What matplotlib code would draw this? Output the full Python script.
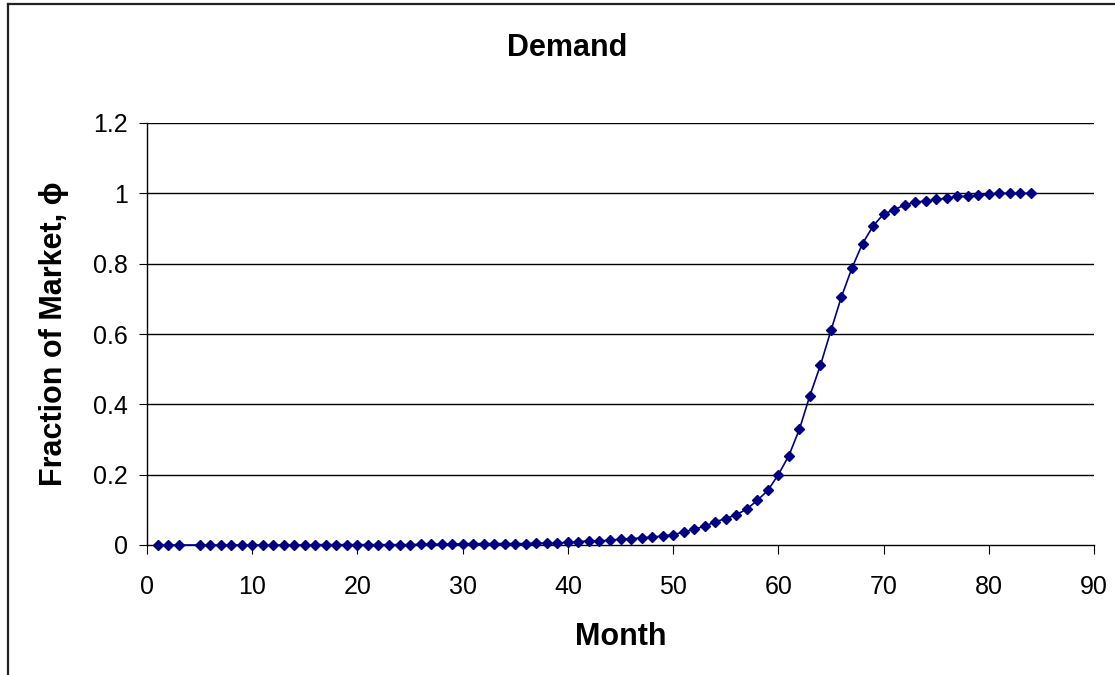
import numpy as np
import matplotlib
matplotlib.use('Agg')
import matplotlib.pyplot as plt
from matplotlib.lines import Line2D

plt.rcParams['font.family'] = ['Liberation Sans', 'DejaVu Sans']

# month index (month 4 is missing in the source)
months = [1, 2, 3] + list(range(5, 85))

# fraction of market
fraction = [
	0.000, 0.000, 0.000,                                      # 1-3
	0.000, 0.000, 0.000, 0.000, 0.000, 0.000, 0.000, 0.000,   # 5-12
	0.000, 0.000, 0.000, 0.001, 0.001, 0.001, 0.001, 0.001,   # 13-20
	0.001, 0.001, 0.001, 0.001, 0.001, 0.002, 0.002, 0.002,   # 21-28
	0.002, 0.004, 0.004, 0.004, 0.004, 0.004, 0.004, 0.004,   # 29-36
	0.005, 0.005, 0.005, 0.008, 0.009, 0.012, 0.012, 0.013,   # 37-44
	0.017, 0.017, 0.021, 0.022, 0.026, 0.029, 0.037, 0.045,   # 45-52
	0.053, 0.066, 0.075, 0.086, 0.102, 0.127, 0.155, 0.200,   # 53-60
	0.254, 0.329, 0.425, 0.511, 0.610, 0.706, 0.788, 0.857,   # 61-68
	0.907, 0.941, 0.953, 0.967, 0.975, 0.978, 0.983, 0.986,   # 69-76
	0.991, 0.991, 0.994, 0.997, 1.000, 1.000, 1.000, 1.000,   # 77-84
]

xticks = list(range(0, 100, 10))
yticks = [0, 0.2, 0.4, 0.6, 0.8, 1.0, 1.2]
ytick_labels = ['0', '0.2', '0.4', '0.6', '0.8', '1', '1.2']

fig = plt.figure(figsize=(11.15, 6.75), dpi=100)
ax = fig.add_axes([147/1115., 1 - 545/675., (1094-147)/1115., (545-123)/675.])

ax.plot(months, fraction, color='#000080', lw=1.2, marker='D', ms=5.5,
	markeredgecolor='#000080', markerfacecolor='#000080', zorder=3, clip_on=False)

ax.set_xlim(0, 90)
ax.set_ylim(0, 1.2)
ax.set_xticks(xticks)
ax.set_xticklabels([str(t) for t in xticks])
ax.set_yticks(yticks)
ax.set_yticklabels(ytick_labels)

for y in yticks[1:]:
	ax.axhline(y, color='black', lw=1.0, zorder=1)

for s in ['top', 'right']:
	ax.spines[s].set_visible(False)
for s in ['left', 'bottom']:
	ax.spines[s].set_color('black')
	ax.spines[s].set_linewidth(1.0)

ax.tick_params(axis='both', direction='out', width=0.8, colors='black', labelsize=18)
ax.tick_params(axis='x', length=6.5, pad=15)
ax.tick_params(axis='y', length=6, pad=8)

ax.set_xlabel('Month', fontsize=22, fontweight='bold', labelpad=17)
ax.set_ylabel('Fraction of Market, \u03d5', fontsize=22, fontweight='bold', labelpad=17)
fig.text(567/1115., 1 - 48/675., 'Demand', fontsize=22, fontweight='bold', ha='center', va='center')

# chart area border (left and top only visible)
fig.add_artist(Line2D([8/1115., 8/1115.], [0, 1 - 4/675.], transform=fig.transFigure, color='#222222', lw=1.6))
fig.add_artist(Line2D([8/1115., 1.0], [1 - 4/675., 1 - 4/675.], transform=fig.transFigure, color='#222222', lw=1.6))

plt.savefig('out.png', dpi=100)
